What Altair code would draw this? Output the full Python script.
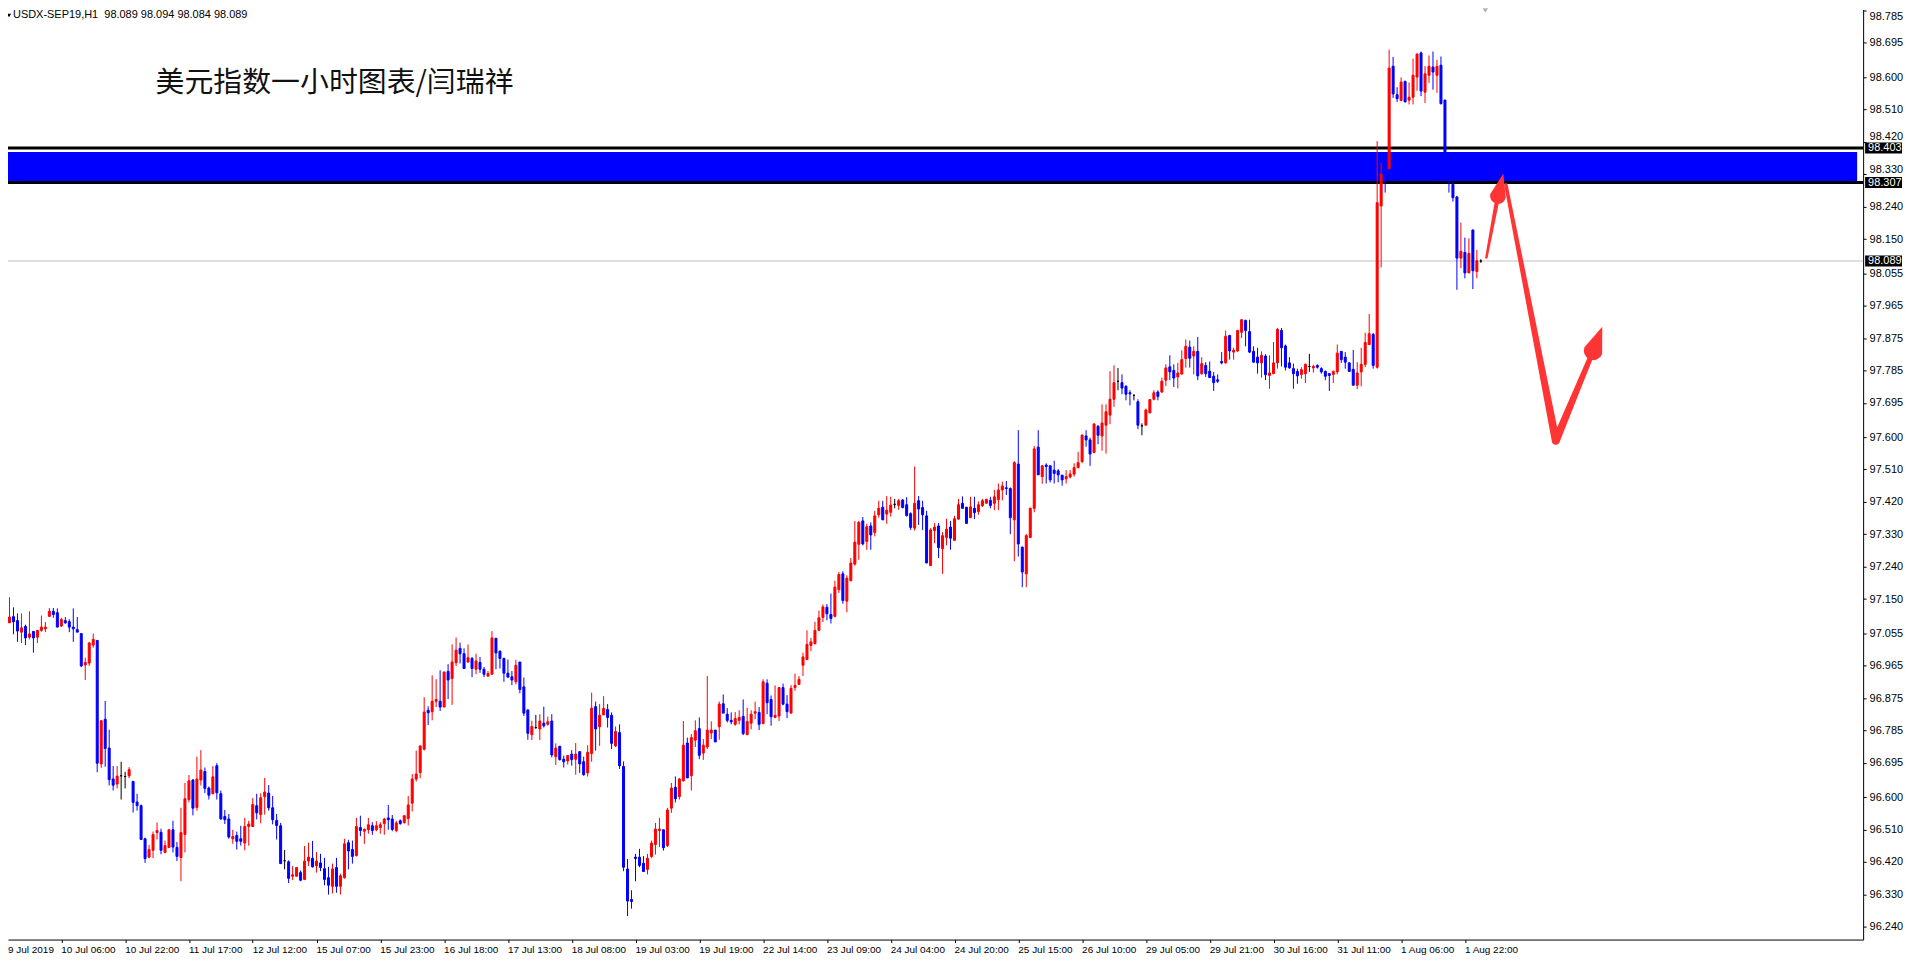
import altair as alt
import pandas as pd
import numpy as np

# ---------------- data (USDX-SEP19, H1) ----------------
open_ = [
97.116, 97.104, 97.084, 97.101, 97.090, 97.058, 97.074, 97.044, 97.060, 97.044,
97.063, 97.067, 97.102, 97.116, 97.112, 97.075, 97.090, 97.087, 97.072, 97.065,
97.054, 96.967, 96.972, 97.022, 97.035, 96.692, 96.816, 96.736, 96.650, 96.636,
96.659, 96.657, 96.659, 96.643, 96.586, 96.576, 96.484, 96.433, 96.452, 96.501,
96.502, 96.446, 96.460, 96.509, 96.460, 96.432, 96.496, 96.593, 96.647, 96.571,
96.647, 96.671, 96.625, 96.609, 96.687, 96.609, 96.546, 96.539, 96.484, 96.493,
96.484, 96.472, 96.518, 96.518, 96.576, 96.551, 96.601, 96.611, 96.570, 96.535,
96.520, 96.423, 96.420, 96.380, 96.380, 96.390, 96.371, 96.422, 96.430, 96.409,
96.417, 96.401, 96.376, 96.352, 96.404, 96.352, 96.376, 96.473, 96.454, 96.437,
96.515, 96.505, 96.509, 96.520, 96.509, 96.515, 96.526, 96.542, 96.539, 96.507,
96.534, 96.529, 96.540, 96.583, 96.650, 96.668, 96.733, 96.841, 96.837, 96.866,
96.866, 96.850, 96.949, 96.929, 96.973, 97.013, 96.998, 96.975, 96.985, 96.955,
96.974, 96.955, 96.936, 96.941, 97.041, 97.005, 96.985, 96.944, 96.934, 96.920,
96.975, 96.906, 96.842, 96.773, 96.793, 96.789, 96.805, 96.802, 96.811, 96.712,
96.741, 96.705, 96.700, 96.719, 96.705, 96.726, 96.698, 96.667, 96.721, 96.851,
96.795, 96.828, 96.843, 96.827, 96.742, 96.779, 96.685, 96.400, 96.315, 96.433,
96.433, 96.416, 96.399, 96.435, 96.468, 96.507, 96.509, 96.465, 96.569, 96.627,
96.601, 96.645, 96.750, 96.659, 96.758, 96.790, 96.722, 96.739, 96.778, 96.786,
96.795, 96.859, 96.830, 96.813, 96.802, 96.813, 96.824, 96.773, 96.805, 96.833,
96.835, 96.804, 96.916, 96.871, 96.821, 96.825, 96.904, 96.858, 96.833, 96.904,
96.913, 96.966, 96.982, 97.021, 97.026, 97.063, 97.099, 97.127, 97.107, 97.102,
97.176, 97.220, 97.144, 97.201, 97.247, 97.302, 97.367, 97.310, 97.353, 97.335,
97.384, 97.405, 97.386, 97.391, 97.413, 97.410, 97.425, 97.412, 97.387, 97.347,
97.423, 97.404, 97.381, 97.243, 97.340, 97.353, 97.290, 97.321, 97.350, 97.313,
97.372, 97.416, 97.405, 97.376, 97.402, 97.393, 97.409, 97.416, 97.424, 97.416,
97.426, 97.453, 97.459, 97.457, 97.370, 97.525, 97.294, 97.220, 97.321, 97.402,
97.572, 97.490, 97.522, 97.520, 97.508, 97.506, 97.494, 97.484, 97.489, 97.497,
97.515, 97.532, 97.603, 97.592, 97.557, 97.630, 97.603, 97.633, 97.661, 97.705,
97.755, 97.751, 97.741, 97.723, 97.716, 97.698, 97.631, 97.633, 97.667, 97.705,
97.725, 97.725, 97.758, 97.795, 97.785, 97.767, 97.775, 97.818, 97.850, 97.825,
97.838, 97.776, 97.799, 97.783, 97.769, 97.759, 97.810, 97.806, 97.882, 97.836,
97.839, 97.891, 97.924, 97.893, 97.838, 97.822, 97.806, 97.825, 97.771, 97.776,
97.806, 97.896, 97.853, 97.806, 97.790, 97.782, 97.774, 97.776, 97.796, 97.792,
97.799, 97.790, 97.782, 97.776, 97.774, 97.781, 97.838, 97.822, 97.806, 97.788,
97.744, 97.781, 97.802, 97.857, 97.885, 97.794, 98.242, 98.330, 98.346, 98.630,
98.551, 98.535, 98.588, 98.536, 98.544, 98.600, 98.667, 98.558, 98.605, 98.628,
98.605, 98.633, 98.536, 98.381, 98.302, 98.267, 98.097, 98.113, 98.056, 98.175,
98.060, 98.089]

high = [
97.158, 97.125, 97.155, 97.127, 97.110, 97.110, 97.079, 97.116, 97.061, 97.064,
97.104, 97.086, 97.125, 97.125, 97.124, 97.098, 97.100, 97.094, 97.124, 97.100,
97.054, 96.987, 97.031, 97.054, 97.036, 96.812, 96.867, 96.787, 96.686, 96.686,
96.698, 96.670, 96.683, 96.645, 96.609, 96.579, 96.487, 96.467, 96.504, 96.529,
96.512, 96.479, 96.509, 96.534, 96.475, 96.570, 96.639, 96.661, 96.650, 96.712,
96.730, 96.682, 96.629, 96.686, 96.694, 96.618, 96.564, 96.553, 96.509, 96.504,
96.520, 96.542, 96.534, 96.597, 96.609, 96.610, 96.653, 96.633, 96.603, 96.553,
96.528, 96.453, 96.424, 96.408, 96.404, 96.396, 96.464, 96.473, 96.478, 96.447,
96.442, 96.431, 96.406, 96.415, 96.431, 96.387, 96.484, 96.481, 96.479, 96.542,
96.548, 96.513, 96.542, 96.530, 96.533, 96.530, 96.542, 96.578, 96.550, 96.534,
96.538, 96.549, 96.603, 96.664, 96.729, 96.742, 96.877, 96.852, 96.938, 96.927,
96.952, 96.949, 96.969, 97.024, 97.043, 97.029, 97.013, 97.024, 96.989, 96.998,
96.989, 96.961, 96.950, 97.061, 97.041, 97.007, 96.987, 96.982, 96.950, 96.981,
96.975, 96.932, 96.842, 96.812, 96.828, 96.830, 96.851, 96.823, 96.830, 96.749,
96.742, 96.715, 96.717, 96.730, 96.750, 96.726, 96.712, 96.744, 96.890, 96.865,
96.858, 96.880, 96.858, 96.835, 96.796, 96.802, 96.699, 96.428, 96.341, 96.442,
96.456, 96.436, 96.442, 96.479, 96.528, 96.542, 96.509, 96.570, 96.639, 96.657,
96.653, 96.811, 96.765, 96.775, 96.813, 96.821, 96.761, 96.936, 96.810, 96.786,
96.865, 96.885, 96.847, 96.835, 96.836, 96.841, 96.871, 96.848, 96.841, 96.865,
96.850, 96.927, 96.927, 96.882, 96.910, 96.906, 96.915, 96.883, 96.911, 96.943,
96.936, 97.001, 97.063, 97.042, 97.087, 97.118, 97.135, 97.136, 97.165, 97.201,
97.225, 97.227, 97.216, 97.264, 97.367, 97.367, 97.378, 97.359, 97.363, 97.395,
97.423, 97.423, 97.436, 97.434, 97.428, 97.428, 97.428, 97.433, 97.391, 97.518,
97.436, 97.423, 97.395, 97.347, 97.361, 97.361, 97.336, 97.373, 97.367, 97.381,
97.428, 97.435, 97.406, 97.434, 97.434, 97.421, 97.428, 97.428, 97.434, 97.453,
97.471, 97.476, 97.478, 97.460, 97.533, 97.619, 97.296, 97.331, 97.404, 97.575,
97.619, 97.522, 97.527, 97.522, 97.534, 97.511, 97.495, 97.508, 97.508, 97.527,
97.559, 97.608, 97.619, 97.598, 97.639, 97.633, 97.691, 97.691, 97.783, 97.799,
97.792, 97.774, 97.744, 97.730, 97.718, 97.705, 97.638, 97.679, 97.705, 97.730,
97.730, 97.765, 97.802, 97.827, 97.802, 97.806, 97.841, 97.871, 97.868, 97.852,
97.878, 97.822, 97.808, 97.810, 97.781, 97.774, 97.836, 97.896, 97.884, 97.848,
97.898, 97.926, 97.926, 97.926, 97.852, 97.848, 97.838, 97.830, 97.827, 97.864,
97.903, 97.903, 97.857, 97.822, 97.804, 97.790, 97.794, 97.804, 97.831, 97.801,
97.802, 97.794, 97.785, 97.778, 97.785, 97.857, 97.839, 97.836, 97.808, 97.842,
97.808, 97.848, 97.890, 97.942, 97.889, 98.422, 98.362, 98.348, 98.676, 98.656,
98.572, 98.599, 98.590, 98.585, 98.651, 98.665, 98.671, 98.630, 98.660, 98.671,
98.648, 98.657, 98.537, 98.390, 98.307, 98.270, 98.196, 98.154, 98.152, 98.177,
98.120, 98.094]

low = [
97.093, 97.058, 97.084, 97.052, 97.031, 97.028, 97.022, 97.038, 97.001, 97.028,
97.059, 97.058, 97.100, 97.098, 97.072, 97.072, 97.081, 97.058, 97.031, 97.058,
96.961, 96.925, 96.964, 97.015, 96.669, 96.681, 96.684, 96.632, 96.618, 96.624,
96.593, 96.624, 96.652, 96.557, 96.562, 96.482, 96.417, 96.430, 96.430, 96.482,
96.441, 96.444, 96.460, 96.446, 96.422, 96.366, 96.446, 96.585, 96.549, 96.562,
96.632, 96.611, 96.593, 96.608, 96.593, 96.537, 96.525, 96.484, 96.470, 96.454,
96.465, 96.452, 96.465, 96.518, 96.538, 96.527, 96.551, 96.562, 96.524, 96.482,
96.415, 96.399, 96.361, 96.369, 96.380, 96.366, 96.369, 96.408, 96.404, 96.390,
96.394, 96.355, 96.329, 96.332, 96.334, 96.329, 96.373, 96.399, 96.415, 96.435,
96.491, 96.470, 96.498, 96.495, 96.505, 96.498, 96.495, 96.509, 96.505, 96.502,
96.523, 96.526, 96.521, 96.560, 96.643, 96.652, 96.729, 96.800, 96.813, 96.850,
96.839, 96.850, 96.872, 96.856, 96.964, 96.971, 96.957, 96.973, 96.933, 96.941,
96.945, 96.933, 96.933, 96.941, 96.955, 96.957, 96.920, 96.932, 96.911, 96.913,
96.888, 96.825, 96.759, 96.758, 96.789, 96.758, 96.793, 96.798, 96.710, 96.689,
96.701, 96.682, 96.690, 96.687, 96.662, 96.667, 96.659, 96.657, 96.698, 96.729,
96.742, 96.828, 96.793, 96.733, 96.739, 96.678, 96.394, 96.269, 96.290, 96.366,
96.405, 96.393, 96.385, 96.430, 96.440, 96.461, 96.451, 96.461, 96.556, 96.585,
96.593, 96.643, 96.653, 96.618, 96.739, 96.705, 96.703, 96.733, 96.761, 96.753,
96.759, 96.833, 96.807, 96.802, 96.798, 96.802, 96.772, 96.773, 96.788, 96.816,
96.786, 96.802, 96.830, 96.798, 96.819, 96.811, 96.855, 96.819, 96.833, 96.895,
96.911, 96.936, 96.982, 97.005, 97.024, 97.061, 97.086, 97.091, 97.082, 97.099,
97.167, 97.137, 97.113, 97.199, 97.243, 97.259, 97.299, 97.287, 97.287, 97.324,
97.376, 97.370, 97.359, 97.379, 97.402, 97.398, 97.402, 97.379, 97.342, 97.340,
97.356, 97.342, 97.250, 97.243, 97.305, 97.264, 97.220, 97.299, 97.287, 97.313,
97.370, 97.402, 97.360, 97.375, 97.372, 97.384, 97.406, 97.416, 97.402, 97.397,
97.397, 97.424, 97.439, 97.330, 97.255, 97.268, 97.183, 97.183, 97.319, 97.391,
97.495, 97.470, 97.471, 97.474, 97.471, 97.474, 97.465, 97.471, 97.485, 97.490,
97.513, 97.527, 97.573, 97.520, 97.555, 97.580, 97.562, 97.554, 97.636, 97.684,
97.730, 97.719, 97.702, 97.688, 97.702, 97.622, 97.605, 97.633, 97.667, 97.702,
97.702, 97.723, 97.742, 97.758, 97.739, 97.735, 97.774, 97.793, 97.793, 97.774,
97.758, 97.773, 97.767, 97.765, 97.728, 97.750, 97.802, 97.804, 97.815, 97.815,
97.836, 97.875, 97.852, 97.833, 97.806, 97.776, 97.765, 97.758, 97.734, 97.776,
97.790, 97.796, 97.785, 97.790, 97.734, 97.748, 97.762, 97.750, 97.781, 97.779,
97.790, 97.776, 97.758, 97.728, 97.750, 97.774, 97.806, 97.790, 97.782, 97.744,
97.733, 97.741, 97.794, 97.857, 97.790, 97.790, 98.071, 98.279, 98.344, 98.542,
98.531, 98.533, 98.530, 98.524, 98.524, 98.562, 98.547, 98.528, 98.584, 98.565,
98.556, 98.524, 98.381, 98.279, 98.254, 98.009, 98.069, 98.041, 98.056, 98.011,
98.041, 98.084]

close = [
97.098, 97.084, 97.100, 97.087, 97.061, 97.070, 97.042, 97.053, 97.042, 97.063,
97.072, 97.072, 97.116, 97.107, 97.072, 97.093, 97.084, 97.072, 97.067, 97.058,
96.964, 96.974, 97.028, 97.038, 96.694, 96.812, 96.735, 96.648, 96.633, 96.658,
96.659, 96.657, 96.676, 96.585, 96.576, 96.482, 96.429, 96.454, 96.496, 96.507,
96.452, 96.465, 96.509, 96.461, 96.435, 96.501, 96.595, 96.645, 96.569, 96.650,
96.675, 96.624, 96.605, 96.656, 96.612, 96.539, 96.537, 96.489, 96.490, 96.477,
96.477, 96.518, 96.525, 96.579, 96.556, 96.598, 96.614, 96.570, 96.537, 96.521,
96.415, 96.423, 96.374, 96.384, 96.404, 96.369, 96.422, 96.433, 96.406, 96.422,
96.404, 96.371, 96.355, 96.400, 96.352, 96.381, 96.470, 96.450, 96.435, 96.518,
96.507, 96.510, 96.523, 96.507, 96.520, 96.523, 96.539, 96.537, 96.510, 96.528,
96.526, 96.548, 96.578, 96.650, 96.664, 96.742, 96.836, 96.834, 96.866, 96.871,
96.850, 96.947, 96.925, 96.975, 97.008, 96.998, 96.957, 96.987, 96.957, 96.978,
96.955, 96.941, 96.943, 97.042, 97.000, 96.985, 96.944, 96.933, 96.925, 96.966,
96.899, 96.833, 96.777, 96.796, 96.793, 96.811, 96.798, 96.809, 96.717, 96.736,
96.704, 96.698, 96.715, 96.704, 96.719, 96.692, 96.662, 96.724, 96.847, 96.789,
96.827, 96.846, 96.821, 96.749, 96.782, 96.687, 96.405, 96.311, 96.310, 96.429,
96.410, 96.393, 96.430, 96.472, 96.511, 96.511, 96.459, 96.564, 96.625, 96.595,
96.650, 96.744, 96.653, 96.765, 96.784, 96.716, 96.744, 96.786, 96.786, 96.753,
96.858, 96.833, 96.813, 96.809, 96.818, 96.821, 96.776, 96.810, 96.830, 96.837,
96.802, 96.920, 96.862, 96.823, 96.827, 96.904, 96.858, 96.837, 96.902, 96.910,
96.927, 96.989, 97.024, 97.031, 97.063, 97.098, 97.128, 97.109, 97.096, 97.183,
97.218, 97.146, 97.208, 97.250, 97.308, 97.363, 97.303, 97.351, 97.328, 97.381,
97.402, 97.370, 97.397, 97.411, 97.413, 97.423, 97.404, 97.382, 97.349, 97.416,
97.400, 97.384, 97.250, 97.342, 97.350, 97.293, 97.326, 97.344, 97.319, 97.373,
97.412, 97.402, 97.360, 97.406, 97.390, 97.412, 97.423, 97.427, 97.410, 97.434,
97.453, 97.464, 97.457, 97.376, 97.529, 97.303, 97.225, 97.326, 97.402, 97.567,
97.495, 97.520, 97.518, 97.481, 97.499, 97.495, 97.481, 97.490, 97.497, 97.515,
97.529, 97.605, 97.592, 97.553, 97.636, 97.605, 97.639, 97.670, 97.705, 97.751,
97.755, 97.736, 97.719, 97.720, 97.716, 97.633, 97.631, 97.675, 97.704, 97.723,
97.713, 97.755, 97.792, 97.781, 97.764, 97.778, 97.815, 97.852, 97.819, 97.838,
97.770, 97.804, 97.776, 97.765, 97.751, 97.755, 97.806, 97.880, 97.839, 97.841,
97.896, 97.926, 97.896, 97.836, 97.808, 97.806, 97.827, 97.773, 97.778, 97.806,
97.899, 97.848, 97.794, 97.792, 97.776, 97.770, 97.787, 97.802, 97.796, 97.796,
97.794, 97.781, 97.769, 97.771, 97.782, 97.833, 97.815, 97.808, 97.782, 97.744,
97.778, 97.802, 97.863, 97.887, 97.799, 98.251, 98.330, 98.311, 98.625, 98.553,
98.540, 98.586, 98.531, 98.544, 98.605, 98.664, 98.561, 98.609, 98.630, 98.614,
98.630, 98.526, 98.385, 98.311, 98.265, 98.097, 98.116, 98.056, 98.110, 98.062,
98.090, 98.089]

x_label_text = [
    "10 Jul 06:00", "10 Jul 22:00", "11 Jul 17:00", "12 Jul 12:00", "15 Jul 07:00",
    "15 Jul 23:00", "16 Jul 18:00", "17 Jul 13:00", "18 Jul 08:00", "19 Jul 03:00",
    "19 Jul 19:00", "22 Jul 14:00", "23 Jul 09:00", "24 Jul 04:00", "24 Jul 20:00",
    "25 Jul 15:00", "26 Jul 10:00", "29 Jul 05:00", "29 Jul 21:00", "30 Jul 16:00",
    "31 Jul 11:00", "1 Aug 06:00", "1 Aug 22:00"]
x_label_bar = [15, 31, 47, 63, 79, 95, 111, 127, 143, 159, 175, 191, 207, 223,
               239, 255, 271, 287, 303, 319, 335, 351, 367]
first_label = "9 Jul 2019"

y_tick_values = [98.785, 98.695, 98.600, 98.510, 98.420, 98.330, 98.240, 98.150,
                 98.055, 97.965, 97.875, 97.785, 97.695, 97.600, 97.510, 97.420,
                 97.330, 97.240, 97.150, 97.055, 96.965, 96.875, 96.785, 96.695,
                 96.600, 96.510, 96.420, 96.330, 96.240]

level_prices = [98.403, 98.307]
level_text = ["98.403", "98.307"]
band_top, band_bottom = 98.392, 98.310
last_price = 98.089

header_text = "USDX-SEP19,H1\u00a0 98.089 98.094 98.084 98.089"
title_text = "美元指数一小时图表/闫瑞祥"

# hand-drawn red arrows (bar index, price, stroke width)
arrow_seg = ["a1", "a1", "a1h", "a1h", "a2", "a2", "a2", "a2h", "a2h"]
arrow_k = [372.4, 375.3, 375.3, 376.6, 377.3, 389.8, 399.2, 399.2, 401.4]
arrow_p = [98.099, 98.270, 98.270, 98.330, 98.300, 97.590, 97.840, 97.840, 97.905]
arrow_w = [2.5, 4.5, 16, 0.5, 3.5, 8, 5, 19, 0.5]

# ---------------- build chart ----------------
n = len(open_)
df = pd.DataFrame({"k": np.arange(n), "o": open_, "h": high, "l": low, "c": close})
df["h"] = df[["o", "h", "c"]].max(axis=1)
df["l"] = df[["o", "l", "c"]].min(axis=1)
df["dir"] = np.where(df.c > df.o, "up", np.where(df.c < df.o, "down", "flat"))
df["xl"] = df.k - 0.25
df["xr"] = df.k + 0.25

W, H = 1861, 933
FONT = "Liberation Sans Narrow, Liberation Sans, Arial, sans-serif"
top_tick = max(y_tick_values)

# labels of ticks that sit just above a price box are lifted above the box
near_box = [t for t in y_tick_values
            if any(0 < t - p < 0.03 for p in level_prices)]
near_test = " || ".join("abs(datum.value - %.3f) < 0.001" % t for t in near_box)

xs = alt.Scale(domain=[1.625, 466.875], nice=False, zero=False)
ys = alt.Scale(domain=[96.204, 98.7877], nice=False, zero=False)
cs = alt.Scale(domain=["up", "down", "flat"], range=["#ff0000", "#0000ff", "#000000"])

x_axis = alt.Axis(values=x_label_bar, labels=False, tickSize=3, tickColor="black",
                  domainColor="black", grid=False, title=None)
y_axis = alt.Axis(orient="right", values=y_tick_values, format=".3f", labelFont=FONT,
                  labelFontSize=11, labelColor="black", tickSize=3, tickColor="black",
                  domainColor="black", labelPadding=3, grid=False, title=None,
                  labelFlush=False, labelOverlap=False,
                  labelBaseline={"condition": [
                      {"test": "datum.value >= %.3f" % (top_tick - 0.001), "value": "top"},
                      {"test": near_test, "value": "bottom"}],
                      "value": "middle"})


def X(field):
    return alt.X(field, scale=xs, axis=x_axis)


def Y(field):
    return alt.Y(field, scale=ys, axis=y_axis)


band = alt.Chart(pd.DataFrame({"y": [band_top], "y2": [band_bottom]})).mark_rect(
    color="#0000ff").encode(
    x=alt.value(0), x2=alt.value(W - 6), y=Y("y:Q"), y2="y2:Q")

cur_line = alt.Chart(pd.DataFrame({"p": [last_price]})).mark_rule(
    color="#c0c0c0", strokeWidth=1).encode(
    x=alt.value(0), x2=alt.value(W), y=Y("p:Q"))

lvl_lines = alt.Chart(pd.DataFrame({"p": level_prices})).mark_rule(
    color="black", strokeWidth=3).encode(
    x=alt.value(0), x2=alt.value(W), y=Y("p:Q"))

wicks = alt.Chart(df).mark_rule(strokeWidth=1, clip=True).encode(
    x=X("k:Q"), y=Y("l:Q"), y2="h:Q",
    color=alt.Color("dir:N", scale=cs, legend=None))

bodies = alt.Chart(df).mark_rect(strokeWidth=1, clip=True).encode(
    x=X("xl:Q"), x2="xr:Q", y=Y("o:Q"), y2="c:Q",
    color=alt.Color("dir:N", scale=cs, legend=None),
    stroke=alt.Stroke("dir:N", scale=cs, legend=None))

arrow_df = pd.DataFrame({"seg": arrow_seg, "k": arrow_k, "p": arrow_p, "w": arrow_w,
                         "i": np.arange(len(arrow_k))})
arrows = alt.Chart(arrow_df).mark_trail(color="#ff3535").encode(
    x=X("k:Q"), y=Y("p:Q"),
    size=alt.Size("w:Q", scale=None, legend=None),
    detail="seg:N", order="i:Q")

box_df = pd.DataFrame({"p": level_prices + [last_price],
                       "t": level_text + ["%.3f" % last_price]})
boxes = alt.Chart(box_df).mark_rule(color="black", strokeWidth=11).encode(
    x=alt.value(W + 2), x2=alt.value(W + 39), y=Y("p:Q"))
box_txt = alt.Chart(box_df).mark_text(
    color="white", align="left", baseline="middle", fontSize=11, font=FONT).encode(
    x=alt.value(W + 5), y=Y("p:Q"), text="t:N")

xl_df = pd.DataFrame({"k": x_label_bar, "t": x_label_text})
x_labels = alt.Chart(xl_df).mark_text(
    align="left", baseline="top", fontSize=10, font=FONT, color="black").encode(
    x=X("k:Q"), y=alt.value(H + 5), text="t:N")
x_first = alt.Chart(pd.DataFrame({"t": [first_label]})).mark_text(
    align="left", baseline="top", fontSize=10, font=FONT, color="black").encode(
    x=alt.value(0), y=alt.value(H + 5), text="t:N")

header = alt.Chart(pd.DataFrame({"t": [header_text]})).mark_text(
    align="left", baseline="middle", fontSize=11, font=FONT, color="black").encode(
    x=alt.value(5), y=alt.value(6), text="t:N")
header_tri = alt.Chart(pd.DataFrame({"t": ["v"]})).mark_point(
    shape="triangle-down", filled=True, color="black", size=18, opacity=1).encode(
    x=alt.value(1), y=alt.value(6))
shift_tri = alt.Chart(pd.DataFrame({"t": ["v"]})).mark_point(
    shape="triangle-down", filled=True, color="#b0b0b0", size=30, opacity=1).encode(
    x=alt.value(1482), y=alt.value(1))

title = alt.Chart(pd.DataFrame({"t": [title_text]})).mark_text(
    align="left", baseline="middle", fontSize=29, font="Noto Sans CJK SC",
    color="#111111").encode(x=alt.value(148), y=alt.value(74), text="t:N")

chart = alt.layer(
    band, cur_line, lvl_lines, wicks, bodies, arrows, boxes, box_txt,
    x_labels, x_first, header, header_tri, shift_tri, title
).properties(
    width=W, height=H,
    autosize=alt.AutoSizeParams(type="none"),
    padding={"left": 0, "top": 0, "right": 41, "bottom": 20},
    background="white",
).configure_view(stroke=None)

chart.save("out.html", embed_options={"renderer": "svg", "actions": False})
